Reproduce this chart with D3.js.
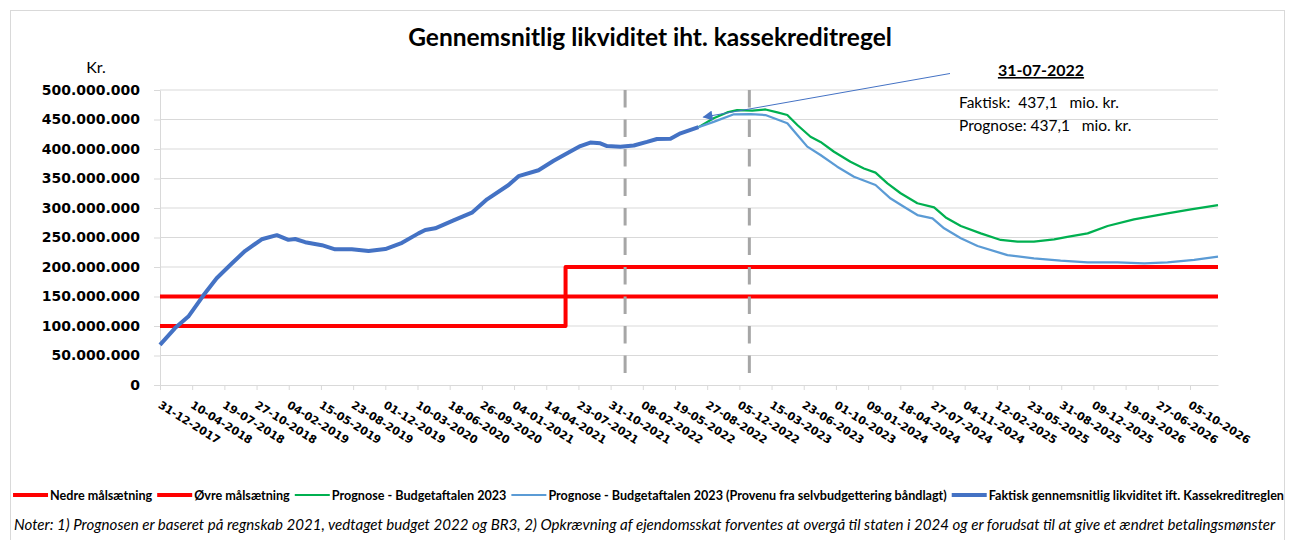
<html>
<head>
<meta charset="utf-8">
<script src="https://d3js.org/d3.v7.min.js"></script>
<style>
  body { margin: 0; background: #fff; }
  text { font-family: Lato, "Noto Sans", sans-serif; fill: #000; }
  .axis-lbl { font-family: "DejaVu Sans", sans-serif; font-weight: bold; }
</style>
</head>
<body>
<svg id="chart" width="1292" height="540"></svg>
<script>
// ---- data (values in mio. kr.) ----
var tickLabels = ["31-12-2017","10-04-2018","19-07-2018","27-10-2018","04-02-2019","15-05-2019","23-08-2019",
  "01-12-2019","10-03-2020","18-06-2020","26-09-2020","04-01-2021","14-04-2021","23-07-2021","31-10-2021",
  "08-02-2022","19-05-2022","27-08-2022","05-12-2022","15-03-2023","23-06-2023","01-10-2023","09-01-2024",
  "18-04-2024","27-07-2024","04-11-2024","12-02-2025","23-05-2025","31-08-2025","09-12-2025","19-03-2026",
  "27-06-2026","05-10-2026"];
var yTicks = [0, 50, 100, 150, 200, 250, 300, 350, 400, 450, 500];
var xDomain = ["2017-12-31", "2026-12-31"];

var nedre = [["2017-12-31",100],["2021-06-13",100],["2021-06-13",150],["2026-12-31",150]];
var oevre = [["2017-12-31",150],["2021-06-13",150],["2021-06-13",200],["2026-12-31",200]];

var faktisk = [["2017-12-31",68],["2018-02-15",96],["2018-03-29",116],["2018-05-15",152],["2018-06-25",181],
  ["2018-08-11",206],["2018-09-21",227],["2018-11-12",247],["2018-12-29",254],["2019-02-03",246],
  ["2019-02-24",247.5],["2019-03-27",242],["2019-05-18",237],["2019-06-28",230],["2019-08-19",230],
  ["2019-10-10",227],["2019-12-01",230.5],["2020-01-22",241],["2020-03-13",257],["2020-04-03",262.7],
  ["2020-05-04",265.6],["2020-06-30",279],["2020-08-26",292],["2020-10-12",314.7],["2020-12-18",339],
  ["2021-01-18",354],["2021-03-21",364],["2021-05-07",380],["2021-06-18",392.7],["2021-07-29",405],
  ["2021-08-29",411],["2021-09-29",409.6],["2021-10-20",405],["2021-11-30",404],["2022-01-11",406],
  ["2022-02-21",412],["2022-03-24",417],["2022-05-05",417.5],["2022-06-05",426.6],["2022-07-31",437.1]];

var prognose = [["2022-07-31",437.1],["2022-09-16",452],["2022-10-28",462],["2022-11-28",466],["2023-01-14",465],
  ["2023-02-24",467],["2023-04-02",462],["2023-05-03",457.6],["2023-06-03",440.7],["2023-07-14",420.8],
  ["2023-08-14",412],["2023-09-25",395.4],["2023-11-15",378.5],["2023-12-27",367],["2024-02-01",360],
  ["2024-03-09",341.8],["2024-04-19",325],["2024-06-10",308],["2024-08-01",301],["2024-09-06",284],
  ["2024-10-23",269.5],["2024-12-24",257],["2025-02-24",245.8],["2025-04-17",243],["2025-06-07",243],
  ["2025-08-09",247],["2025-09-19",251],["2025-11-21",257],["2026-01-22",269.5],["2026-04-14",280.8],
  ["2026-07-27",291],["2026-10-08",297.8],["2026-12-31",305]];

var prognoseBaand = [["2022-07-31",437.1],["2022-09-16",446],["2022-11-18",458.8],["2023-01-09",459.3],
  ["2023-02-24",457.6],["2023-04-02",450],["2023-05-03",443.6],["2023-06-03",423.7],["2023-07-04",404],
  ["2023-08-14",389.8],["2023-10-05",370],["2023-11-26",353],["2024-02-01",339],["2024-03-19",316],
  ["2024-04-29",302],["2024-06-10",288],["2024-07-27",282.5],["2024-09-01",265.6],["2024-10-23",248.6],
  ["2024-12-14",235.6],["2025-03-17",220],["2025-06-07",214.7],["2025-08-29",210.7],["2025-11-21",208],
  ["2026-02-22",208],["2026-05-16",206],["2026-07-27",208],["2026-10-18",212],["2026-12-31",217.5]];

var markerDates = ["2021-12-15", "2023-01-05"];
var calloutDate = "2022-07-31";
var calloutFaktisk = "437,1";
var calloutPrognose = "437,1";

var legendItems = [
  {name: "Nedre målsætning", color: "#FF0000", w: 4},
  {name: "Øvre målsætning", color: "#FF0000", w: 4},
  {name: "Prognose - Budgetaftalen 2023", color: "#00B050", w: 2},
  {name: "Prognose - Budgetaftalen 2023 (Provenu fra selvbudgettering båndlagt)", color: "#5B9BD5", w: 2},
  {name: "Faktisk gennemsnitlig likviditet ift. Kassekreditreglen", color: "#4472C4", w: 4}
];

// ---- drawing ----
var svg = d3.select("#chart");
var parseIso = d3.utcParse("%Y-%m-%d");
var parseLbl = d3.utcParse("%d-%m-%Y");
var fmtLbl = d3.utcFormat("%d-%m-%Y");
var dk = d3.formatLocale({decimal: ",", thousands: ".", grouping: [3], currency: ["", " kr."]});
var fmtY = dk.format(",");
var nb = "\u00A0";

var plotL = 160, plotR = 1218, plotT = 90, plotB = 385;
var x = d3.scaleUtc().domain(xDomain.map(parseIso)).range([plotL, plotR]);
var y = d3.scaleLinear().domain([0, 500]).range([plotB, plotT]);

// frame
svg.append("rect").attr("x", 10.5).attr("y", 10.5).attr("width", 1274).attr("height", 540)
  .attr("fill", "none").attr("stroke", "#d9d9d9");

// title
svg.append("text").attr("x", 650).attr("y", 46).attr("text-anchor", "middle")
  .style("font-size", "24.5px").style("font-weight", "bold")
  .text("Gennemsnitlig likviditet iht. kassekreditregel");
svg.append("text").attr("x", 96).attr("y", 73).attr("text-anchor", "middle")
  .style("font-size", "16px").text("Kr.");

// gridlines
svg.append("g").selectAll("line").data(yTicks.filter(function(d){ return d > 0; })).join("line")
  .attr("x1", plotL).attr("x2", plotR).attr("y1", function(d){ return y(d); }).attr("y2", function(d){ return y(d); })
  .attr("stroke", "#d9d9d9").attr("stroke-width", 1);

// y axis
var yAxis = svg.append("g").attr("transform", "translate(" + plotL + ",0)")
  .call(d3.axisLeft(y).tickValues(yTicks).tickSize(6).tickSizeOuter(0)
    .tickFormat(function(d){ return fmtY(d * 1e6); }));
yAxis.select(".domain").attr("stroke", "#d9d9d9");
yAxis.selectAll(".tick line").attr("stroke", "#d9d9d9");
yAxis.selectAll(".tick text").attr("class", "axis-lbl").attr("x", -20).style("font-size", "14px");

// x axis
var xTickDates = tickLabels.map(parseLbl);
var xAxis = svg.append("g").attr("transform", "translate(0," + plotB + ")")
  .call(d3.axisBottom(x).tickValues(xTickDates).tickSize(5).tickSizeOuter(0).tickFormat(fmtLbl));
xAxis.select(".domain").attr("stroke", "#d9d9d9");
xAxis.selectAll(".tick line").attr("stroke", "#d9d9d9");
xAxis.selectAll(".tick text").attr("class", "axis-lbl").style("font-size", "11px")
  .attr("text-anchor", "start").attr("dy", null).attr("y", null)
  .attr("transform", "translate(-3,22) rotate(32)");

// lines
var line = d3.line().x(function(d){ return x(parseIso(d[0])); }).y(function(d){ return y(d[1]); });
function drawSeries(data, color, width) {
  svg.append("path").datum(data).attr("d", line).attr("fill", "none")
    .attr("stroke", color).attr("stroke-width", width).attr("stroke-linejoin", "round");
}
drawSeries(nedre, "#FF0000", 4);
drawSeries(oevre, "#FF0000", 4);

// dashed markers
svg.append("g").selectAll("line").data(markerDates).join("line")
  .attr("x1", function(d){ return x(parseIso(d)); }).attr("x2", function(d){ return x(parseIso(d)); })
  .attr("y1", y(500)).attr("y2", y(0))
  .attr("stroke", "#a6a6a6").attr("stroke-width", 3).attr("stroke-dasharray", "17.5,12");

drawSeries(prognose, "#00B050", 2.25);
drawSeries(prognoseBaand, "#5B9BD5", 2.25);
drawSeries(faktisk, "#4472C4", 4);

// callout arrow
svg.append("defs").append("marker").attr("id", "arr").attr("viewBox", "0 0 10 10")
  .attr("refX", 9).attr("refY", 5).attr("markerWidth", 12).attr("markerHeight", 10)
  .attr("markerUnits", "userSpaceOnUse").attr("orient", "auto")
  .append("path").attr("d", "M0,0L10,5L0,10z").attr("fill", "#4472C4");
var cx = x(parseIso(calloutDate)), cy = y(calloutFaktisk.replace(",", ".") * 1);
svg.append("line").attr("x1", 950).attr("y1", 73.5).attr("x2", cx + 5).attr("y2", cy - 10)
  .attr("stroke", "#4472C4").attr("stroke-width", 1).attr("marker-end", "url(#arr)");

svg.append("text").attr("x", 1041).attr("y", 76).attr("text-anchor", "middle")
  .style("font-size", "16px").style("font-weight", "bold").style("text-decoration", "underline")
  .text(fmtLbl(parseIso(calloutDate)));
svg.append("text").attr("x", 959).attr("y", 108).style("font-size", "15.5px")
  .text("Faktisk:" + nb + nb + calloutFaktisk + nb + nb + nb + "mio. kr.");
svg.append("text").attr("x", 959).attr("y", 131).style("font-size", "15.5px")
  .text("Prognose:" + nb + calloutPrognose + nb + nb + nb + "mio. kr.");

// legend
var lg = svg.append("g");
var cursor = 0, sample = 35;
legendItems.forEach(function(it) {
  var g = lg.append("g").attr("transform", "translate(" + cursor + ",0)");
  g.append("line").attr("x1", 0).attr("x2", sample).attr("y1", 0).attr("y2", 0)
    .attr("stroke", it.color).attr("stroke-width", it.w);
  var t = g.append("text").attr("x", sample + 2).attr("y", 4.5)
    .style("font-size", "12.6px").style("font-weight", "bold").text(it.name);
  cursor += sample + 2 + t.node().getComputedTextLength() + 5;
});
lg.attr("transform", "translate(" + (651 - cursor / 2) + ",495)");

// notes
svg.append("text").attr("x", 14).attr("y", 530).style("font-size", "15.1px").style("font-style", "italic")
  .text("Noter: 1) Prognosen er baseret på regnskab 2021, vedtaget budget 2022 og BR3, 2) Opkrævning af ejendomsskat forventes at overgå til staten i 2024 og er forudsat til at give et ændret betalingsmønster");
</script>
</body>
</html>
